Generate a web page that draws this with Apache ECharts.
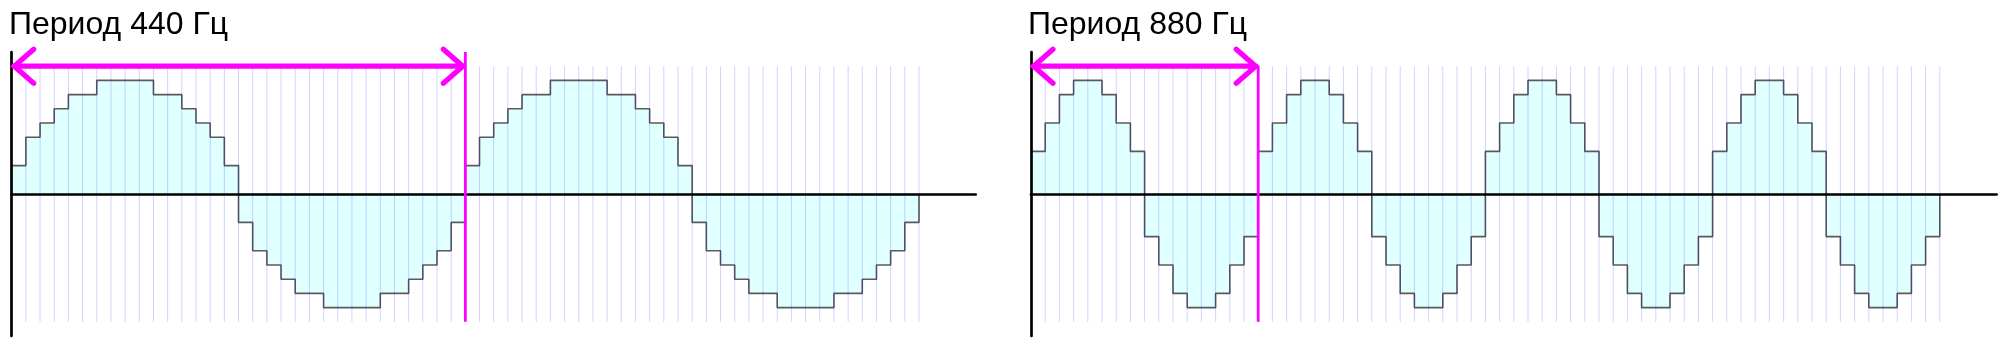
<!DOCTYPE html>
<html>
<head>
<meta charset="utf-8">
<script src="https://cdn.jsdelivr.net/npm/echarts@6/dist/echarts.min.js"></script>
<style>
html,body{margin:0;padding:0;background:#fff;}
#c{width:2006px;height:345px;}
</style>
</head>
<body>
<div id="c"></div>
<script>
// ---- data ----
const titles = ['Период 440 Гц', 'Период 880 Гц'];
const samples440 = [
  2, 4, 5, 6, 7, 7, 8, 8, 8, 8, 7, 7, 6, 5, 4, 2,
  -2, -4, -5, -6, -7, -7, -8, -8, -8, -8, -7, -7, -6, -5, -4, -2,
  2, 4, 5, 6, 7, 7, 8, 8, 8, 8, 7, 7, 6, 5, 4, 2,
  -2, -4, -5, -6, -7, -7, -8, -8, -8, -8, -7, -7, -6, -5, -4, -2
];
const samples880 = [
  3, 5, 7, 8, 8, 7, 5, 3, -3, -5, -7, -8, -8, -7, -5, -3,
  3, 5, 7, 8, 8, 7, 5, 3, -3, -5, -7, -8, -8, -7, -5, -3,
  3, 5, 7, 8, 8, 7, 5, 3, -3, -5, -7, -8, -8, -7, -5, -3,
  3, 5, 7, 8, 8, 7, 5, 3, -3, -5, -7, -8, -8, -7, -5, -3
];
const periods = [32, 16];            // samples per period
const arrowLevel = 9;                 // y value of period arrow
const markerTops = [10, 9];           // top of period marker line
const markerBottom = -9;
const sampleLineTop = 9, sampleLineBottom = -9;
const xRange = [0, 68];
const yRange = [-10, 10];

// ---- chart ----
const chart = echarts.init(document.getElementById('c'), null, {renderer: 'canvas'});
const allSamples = [samples440, samples880];
const MAG = '#ff00ff';

function stepData(s) {
  return s.map((v, i) => [i, v]).concat([[s.length, 0]]);
}
function boundaries(s) {
  return s.map((v, i) => [i + 1]);
}

const grids = [
  {left: 11.7, top: 52, width: 964, height: 284},
  {left: 1031, top: 52, width: 965.6, height: 284}
];

const xAxes = grids.map((g, i) => ({
  type: 'value', gridIndex: i, min: xRange[0], max: xRange[1], z: 10,
  axisLine: {show: true, onZero: true, lineStyle: {color: '#000', width: 2.7}},
  axisTick: {show: false}, axisLabel: {show: false}, splitLine: {show: false}
}));
const yAxes = grids.map((g, i) => ({
  type: 'value', gridIndex: i, min: yRange[0], max: yRange[1], z: 10,
  axisLine: {show: true, lineStyle: {color: '#000', width: 2.7}},
  axisTick: {show: false}, axisLabel: {show: false}, splitLine: {show: false}
}));

const series = [];
allSamples.forEach((s, i) => {
  series.push({
    type: 'line', xAxisIndex: i, yAxisIndex: i, step: 'end',
    data: stepData(s), symbol: 'none', z: 2, silent: true,
    lineStyle: {color: '#5a5a5a', width: 1.6},
    areaStyle: {color: '#e0ffff', opacity: 1}
  });
  series.push({
    type: 'custom', xAxisIndex: i, yAxisIndex: i, z: 3, silent: true,
    data: boundaries(s),
    renderItem: function (params, api) {
      const x = api.value(0);
      const p1 = api.coord([x, sampleLineTop]);
      const p2 = api.coord([x, sampleLineBottom]);
      return {type: 'line', shape: {x1: p1[0], y1: p1[1], x2: p2[0], y2: p2[1]},
        style: {stroke: 'rgba(0,0,255,0.18)', lineWidth: 1}};
    }
  });
  series.push({
    type: 'custom', xAxisIndex: i, yAxisIndex: i, z: 12, silent: true,
    data: [[0, periods[i], arrowLevel, markerTops[i], markerBottom]],
    renderItem: function (params, api) {
      const a = api.coord([api.value(0), api.value(2)]);
      const b = api.coord([api.value(1), api.value(2)]);
      const vt = api.coord([api.value(1), api.value(3)]);
      const vb = api.coord([api.value(1), api.value(4)]);
      const lx = a[0] + 2.5, rx = b[0] - 2.5, y = a[1];
      const armX = 19.5, armY = 17;
      const st = {stroke: MAG, lineWidth: 5.2, lineCap: 'round', lineJoin: 'miter', fill: null};
      return {type: 'group', children: [
        {type: 'line', shape: {x1: vt[0], y1: vt[1], x2: vb[0], y2: vb[1]},
          style: {stroke: MAG, lineWidth: 2.8}},
        {type: 'line', shape: {x1: lx, y1: y, x2: rx, y2: y}, style: st},
        {type: 'polyline', shape: {points: [[lx + armX, y - armY], [lx, y], [lx + armX, y + armY]]}, style: st},
        {type: 'polyline', shape: {points: [[rx - armX, y - armY], [rx, y], [rx - armX, y + armY]]}, style: st}
      ]};
    }
  });
});

chart.setOption({
  animation: false,
  backgroundColor: '#fff',
  title: titles.map((t, i) => ({
    text: t, left: i === 0 ? 9 : 1028, top: 9, padding: 0,
    textStyle: {fontFamily: 'Liberation Sans, Arial, sans-serif', fontSize: 32, fontWeight: 'normal', color: '#000'}
  })),
  grid: grids,
  xAxis: xAxes,
  yAxis: yAxes,
  series: series
});
</script>
</body>
</html>
